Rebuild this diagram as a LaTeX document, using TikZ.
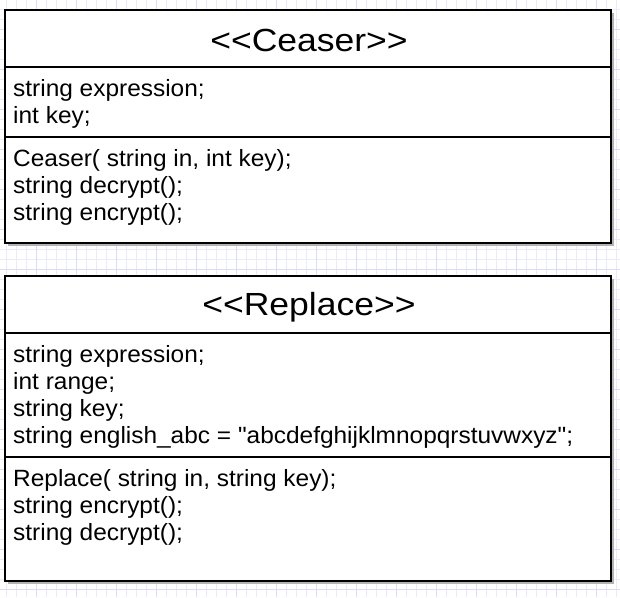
\documentclass[tikz,border=0pt]{standalone}
\usepackage{fontspec}
\setmainfont{Liberation Sans}[Ligatures=TeXOff]
\definecolor{gridminor}{RGB}{234,234,252}
\definecolor{gridmajor}{RGB}{220,220,250}
\definecolor{shadowgray}{RGB}{179,179,179}
\tikzset{
  classbox/.style={draw=black, line width=2pt, fill=white},
  sepline/.style={draw=black, line width=2pt},
  shadowbox/.style={fill=shadowgray, draw=none},
  titletext/.style={font=\fontsize{32}{38}\selectfont, anchor=base, inner sep=0pt, xscale=1.11, transform shape},
  bodytext/.style={font=\fontsize{23.5}{27}\selectfont, anchor=north west, align=left, inner sep=0pt, xscale=1.04, transform shape},
}
\begin{document}
\begin{tikzpicture}[x=1pt,y=-1pt]
\useasboundingbox (0,0) rectangle (620,597);
% grid
\foreach \i in {0,...,61}{
  \draw[gridminor, line width=1pt] (6+10*\i,0) -- (6+10*\i,597);
}
\foreach \j in {0,...,59}{
  \draw[gridminor, line width=1pt] (0,9+10*\j) -- (620,9+10*\j);
}
\foreach \i in {0,...,15}{
  \draw[gridmajor, line width=1pt] (36+40*\i,0) -- (36+40*\i,597);
}
\foreach \j in {0,...,14}{
  \draw[gridmajor, line width=1pt] (0,29+40*\j) -- (620,29+40*\j);
}
% Ceaser box
\fill[shadowbox] (8,13) rectangle (614,246);
\draw[classbox] (5,10) rectangle (611,243);
\coordinate (c1l) at (5,67); \coordinate (c1r) at (611,67);
\coordinate (c2l) at (5,137); \coordinate (c2r) at (611,137);
\draw[sepline] (c1l) -- (c1r);
\draw[sepline] (c2l) -- (c2r);
\node[titletext] (ctitle) at (309,51.5) {<<Ceaser>>};
\node[bodytext] (cattr) at (13,79) {string expression;\\int key;};
\node[bodytext] (cmeth) at (13,149) {Ceaser( string in, int key);\\string decrypt();\\string encrypt();};
% Replace box
\fill[shadowbox] (8,279) rectangle (614,584);
\draw[classbox] (5,276) rectangle (611,581);
\coordinate (r1l) at (5,333); \coordinate (r1r) at (611,333);
\coordinate (r2l) at (5,457); \coordinate (r2r) at (611,457);
\draw[sepline] (r1l) -- (r1r);
\draw[sepline] (r2l) -- (r2r);
\node[titletext] (rtitle) at (309,315) {<<Replace>>};
\node[bodytext] (rattr) at (13,345) {string expression;\\int range;\\string key;\\string english\_abc = "abcdefghijklmnopqrstuvwxyz";};
\node[bodytext] (rmeth) at (13,469) {Replace( string in, string key);\\string encrypt();\\string decrypt();};
\end{tikzpicture}
\end{document}
